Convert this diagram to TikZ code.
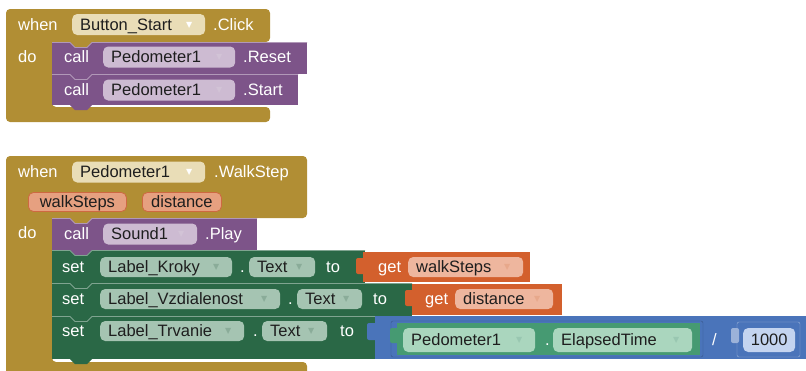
\documentclass[tikz,border=0pt]{standalone}
\usepackage{fontspec}
\setmainfont{Liberation Sans}
\newfontfamily\arrowfont{DejaVu Sans}
\setlength{\parindent}{0pt}

\definecolor{gold}{RGB}{177,142,52}
\definecolor{goldpill}{RGB}{233,221,183}
\definecolor{purp}{RGB}{125,84,137}
\definecolor{purppill}{RGB}{205,187,210}
\definecolor{setgreen}{RGB}{42,104,70}
\definecolor{setpill}{RGB}{165,196,178}
\definecolor{getorange}{RGB}{211,96,45}
\definecolor{getpill}{RGB}{238,182,158}
\definecolor{parampill}{RGB}{230,160,128}
\definecolor{paramline}{RGB}{205,105,65}
\definecolor{mathblue}{RGB}{74,116,186}
\definecolor{numpill}{RGB}{196,212,240}
\definecolor{compgreen}{RGB}{70,154,114}
\definecolor{comppill}{RGB}{170,214,190}
\definecolor{pilltxt}{RGB}{30,30,30}

\newcommand{\dd}[1]{\hskip 0pt plus 1fill\raisebox{3pt}{\arrowfont\fontsize{8}{8}\selectfont\textcolor{#1}{▼}}\kern5pt}

\tikzset{
  lbl/.style={text=white, inner sep=0pt, anchor=west, text height=11.8pt, text depth=0pt},
  pill/.style={fill=#1, rounded corners=5pt, inner xsep=8pt, inner ysep=0pt, minimum height=21pt,
    anchor=west, text=pilltxt, text height=11.8pt, text depth=0pt, align=left},
  valbox/.style={fill=#1, rounded corners=5pt, inner sep=0pt, minimum height=19pt,
    anchor=west, text=pilltxt, text height=11.8pt, text depth=0pt},
  param/.style={valbox=parampill, draw=paramline, line width=0.8pt}
}

\begin{document}
\begin{tikzpicture}[x=1pt, y=-1pt, font=\fontsize{16.5}{19}\selectfont]
\useasboundingbox (0,0) rectangle (806,370);
\clip (0,0) rectangle (806,370);

% when Button_Start.Click
\fill[gold, rounded corners=4pt] (6,9) -- (270,9) -- (270,42) -- (52,42) -- (52,107) -- (270,107) -- (270,122) -- (6,122) -- cycle;
\fill[purp] (52,42) rectangle (307,74);
\fill[purp] (52,74) rectangle (298,105);
\foreach \y/\c in {42/gold,74/purp,105/purp}
  \fill[\c] (70,\y) -- ++(5,5) -- ++(12,0) -- ++(5,-5) -- cycle;
\foreach \y/\e in {42.5/307,74.5/298}
  \draw[purp!60!white, line width=0.8pt] (52,\y) -- (70,\y) -- ++(5,5) -- ++(12,0) -- ++(5,-5) -- (\e,\y);

\node[lbl] (whenA) at (18,24.5) {when};
\node[pill=goldpill, text width=117pt] (btnStart) at (72,24.5) {Button\_Start\dd{white}};
\node[lbl] (clickA) at (213,24.5) {.Click};
\node[lbl] (doA) at (18,57) {do};
\node[lbl] (callReset) at (64,57) {call};
\node[pill=purppill, text width=116pt] (pedReset) at (103,57) {Pedometer1\dd{purp!35!white}};
\node[lbl] (resetA) at (243,57) {.Reset};
\node[lbl] (callStart) at (64,90) {call};
\node[pill=purppill, text width=116pt] (pedStart) at (103,90) {Pedometer1\dd{purp!35!white}};
\node[lbl] (startA) at (243,90) {.Start};

% when Pedometer1.WalkStep
\fill[gold, rounded corners=4pt] (6,156) -- (307,156) -- (307,218) -- (52,218) -- (52,362) -- (307,362) -- (307,380) -- (6,380) -- cycle;
\fill[purp] (52,218) rectangle (257,250);
\fill[setgreen] (52,250) rectangle (365,283);
\fill[setgreen] (52,283) rectangle (412,316);
\fill[setgreen] (52,316) rectangle (375,359);
\foreach \y/\c in {218/gold,250/purp,283/setgreen,316/setgreen,359/setgreen}
  \fill[\c] (70,\y) -- ++(5,5) -- ++(12,0) -- ++(5,-5) -- cycle;
\draw[purp!60!white, line width=0.8pt] (52,218.5) -- (70,218.5) -- ++(5,5) -- ++(12,0) -- ++(5,-5) -- (257,218.5);
\foreach \y/\e in {250.5/365,283.5/412,316.5/375}
  \draw[setgreen!60!white, line width=0.8pt] (52,\y) -- (70,\y) -- ++(5,5) -- ++(12,0) -- ++(5,-5) -- (\e,\y);

% values
\fill[getorange] (363,252) rectangle (530,282);
\fill[getorange, rounded corners=2pt] (356,258) rectangle (366,274);
\fill[getorange] (412,284) rectangle (562,315);
\fill[getorange, rounded corners=2pt] (405,290) rectangle (415,306);
\fill[mathblue] (375,316) rectangle (820,359);
\fill[mathblue, rounded corners=2pt] (367,323) rectangle (378,340);
\draw[mathblue!75!black, rounded corners=2pt] (391,321) rectangle (703,357);
\fill[compgreen] (397,323) rectangle (700,355);
\fill[compgreen, rounded corners=2pt] (390,328) rectangle (400,343);
\filldraw[fill=mathblue, draw=mathblue!55!white, rounded corners=2pt] (737,322) rectangle (800,357);
\fill[mathblue!55!white, rounded corners=2pt] (731,328) rectangle (739,343);

\node[lbl] (whenB) at (18,172) {when};
\node[pill=goldpill, text width=117pt] (pedWalk) at (72,172) {Pedometer1\dd{white}};
\node[lbl] (walkB) at (214,172) {.WalkStep};
\node[param, minimum width=98pt] (walkSteps) at (28,202) {walkSteps};
\node[param, minimum width=79pt] (distance) at (142,202) {distance};
\node[lbl] (doB) at (18,233) {do};
\node[lbl] (callPlay) at (64,234) {call};
\node[pill=purppill, text width=78pt] (sound) at (103,234) {Sound1\dd{purp!35!white}};
\node[lbl] (playB) at (205,234) {.Play};

\node[lbl] (setKroky) at (62,267) {set};
\node[pill=setpill, text width=116pt, minimum height=20pt] (lblKroky) at (100,267) {Label\_Kroky\dd{setgreen!55!white}};
\node[lbl] (dotKroky) at (240,267) {.};
\node[pill=setpill, text width=50pt, minimum height=20pt] (txtKroky) at (249,267) {Text\dd{setgreen!55!white}};
\node[lbl] (toKroky) at (326,267) {to};
\node[lbl] (getWalk) at (378,267) {get};
\node[pill=getpill, text width=99pt, minimum height=20pt] (walkVal) at (408,267) {walkSteps\dd{getorange!55!white}};

\node[lbl] (setVzd) at (62,299) {set};
\node[pill=setpill, text width=164pt, minimum height=20pt] (lblVzd) at (100,299) {Label\_Vzdialenost\dd{setgreen!55!white}};
\node[lbl] (dotVzd) at (288,299) {.};
\node[pill=setpill, text width=49pt, minimum height=20pt] (txtVzd) at (297,299) {Text\dd{setgreen!55!white}};
\node[lbl] (toVzd) at (373,299) {to};
\node[lbl] (getDist) at (425,299) {get};
\node[pill=getpill, text width=82pt, minimum height=20pt] (distVal) at (455,299) {distance\dd{getorange!55!white}};

\node[lbl] (setTrv) at (62,331) {set};
\node[pill=setpill, text width=128pt, minimum height=20pt] (lblTrv) at (100,331) {Label\_Trvanie\dd{setgreen!55!white}};
\node[lbl] (dotTrv) at (253,331) {.};
\node[pill=setpill, text width=49pt, minimum height=20pt] (txtTrv) at (262,331) {Text\dd{setgreen!55!white}};
\node[lbl] (toTrv) at (340,331) {to};
\node[pill=comppill, text width=116pt, minimum height=24pt] (pedElapsed) at (403,340) {Pedometer1\dd{compgreen!55!white}};
\node[lbl] (dotElapsed) at (545,340) {.};
\node[pill=comppill, text width=123pt, minimum height=24pt] (elapsed) at (553,340) {ElapsedTime\dd{compgreen!55!white}};
\node[lbl] (divide) at (712,340) {/};
\node[valbox=numpill, minimum width=52pt, minimum height=24pt] (thousand) at (743,340) {1000};

\end{tikzpicture}
\end{document}
